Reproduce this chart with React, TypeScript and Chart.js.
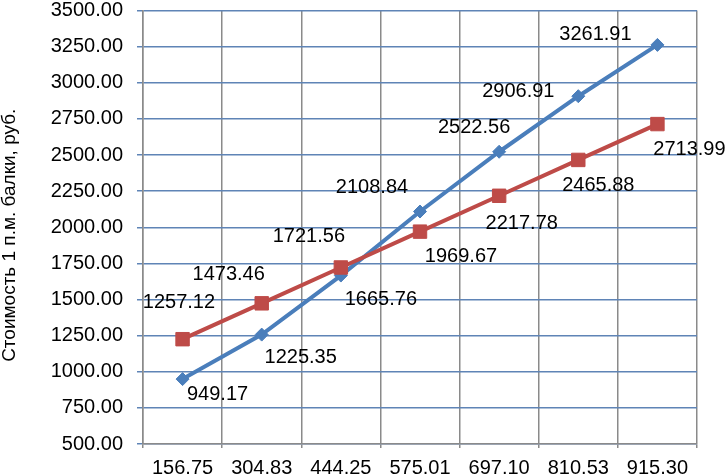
import React, { useEffect, useRef } from 'react';
import { Chart, registerables } from 'chart.js';

Chart.register(...registerables);

const categories = ['156.75', '304.83', '444.25', '575.01', '697.10', '810.53', '915.30'];
const blueValues = [949.17, 1257.12, 1665.76, 2108.84, 2522.56, 2906.91, 3261.91];
const redValues = [1225.35, 1473.46, 1721.56, 1969.67, 2217.78, 2465.88, 2713.99];
const blueLabels = ['949.17', '1225.35', '1665.76', '2108.84', '2522.56', '2906.91', '3261.91'];
const redLabels = ['1257.12', '1473.46', '1721.56', '1969.67', '2217.78', '2465.88', '2713.99'];
const yTitle = 'Стоимость 1 п.м. балки, руб.';
const yMin = 500;
const yMax = 3500;
const yStep = 250;

// label placement offsets (pixels from the point), per series
const blueOffsets = [[35, 15], [39, 23], [40, 24], [-48, -24], [-25, -24.5], [-60, -4.5], [-62, -10]];
const redOffsets = [[-3.6, -37], [-33, -29], [-32, -31], [41, 25], [22.6, 28], [20, 26], [32, 25]];

const FONT = "'Liberation Sans', Arial, sans-serif";
const BLUE = '#4a7ebb';
const RED = '#be4b48';
const HGRID = '#5f84b6';
const VGRID = '#8a8a8a';

const labelPlugin = {
  id: 'pointLabels',
  afterDatasetsDraw(chart: any) {
    const ctx = chart.ctx;
    ctx.save();
    ctx.font = `20px ${FONT}`;
    ctx.fillStyle = '#000';
    ctx.textAlign = 'center';
    ctx.textBaseline = 'middle';
    const sets = [
      { idx: 0, labels: blueLabels, offs: blueOffsets },
      { idx: 1, labels: redLabels, offs: redOffsets },
    ];
    sets.forEach((s) => {
      const meta = chart.getDatasetMeta(s.idx);
      meta.data.forEach((pt: any, j: number) => {
        ctx.fillText(s.labels[j], pt.x + s.offs[j][0], pt.y + s.offs[j][1]);
      });
    });
    ctx.restore();
  },
};

const titlePlugin = {
  id: 'yTitle',
  afterDraw(chart: any) {
    const ctx = chart.ctx;
    const area = chart.chartArea;
    ctx.save();
    ctx.font = `19px ${FONT}`;
    ctx.fillStyle = '#000';
    ctx.textAlign = 'center';
    ctx.textBaseline = 'middle';
    ctx.translate(10, (area.top + area.bottom) / 2 + 8);
    ctx.rotate(-Math.PI / 2);
    ctx.fillText(yTitle, 0, 0);
    ctx.restore();
  },
};

const bgPlugin = {
  id: 'bg',
  beforeDraw(chart: any) {
    const ctx = chart.ctx;
    ctx.save();
    ctx.fillStyle = '#fff';
    ctx.fillRect(0, 0, chart.width, chart.height);
    ctx.restore();
  },
};

export default function App() {
  const ref = useRef<HTMLCanvasElement>(null);
  useEffect(() => {
    if (!ref.current) return;
    Chart.defaults.font.family = FONT;
    const chart = new Chart(ref.current, {
      type: 'line',
      data: {
        labels: categories,
        datasets: [
          {
            data: blueValues,
            borderColor: BLUE,
            backgroundColor: BLUE,
            borderWidth: 4,
            pointStyle: 'rectRot',
            pointRadius: 6.5,
            pointBorderWidth: 1,
            pointBorderColor: BLUE,
            pointBackgroundColor: BLUE,
            tension: 0,
            order: 2,
          },
          {
            data: redValues,
            borderColor: RED,
            backgroundColor: RED,
            borderWidth: 4,
            pointStyle: 'rect',
            pointRadius: 9.5,
            pointBorderWidth: 1,
            pointBorderColor: RED,
            pointBackgroundColor: RED,
            tension: 0,
            order: 1,
          },
        ],
      },
      options: {
        responsive: false,
        animation: false,
        events: [],
        layout: { padding: { top: 8, right: 30, left: 0, bottom: 0 } },
        plugins: {
          legend: { display: false },
          tooltip: { enabled: false },
          title: { display: false },
        },
        scales: {
          x: {
            type: 'category',
            offset: true,
            grid: {
              offset: true,
              color: VGRID,
              lineWidth: 1.5,
              drawTicks: true,
              tickLength: 4,
            },
            border: { color: VGRID, width: 1.5 },
            ticks: {
              color: '#000',
              font: { size: 20, family: FONT },
              padding: 8,
              maxRotation: 0,
              autoSkip: false,
            },
            afterFit(scale: any) {
              scale.height = 31;
              scale.paddingLeft = 0;
              scale.paddingRight = 0;
            },
          },
          y: {
            min: yMin,
            max: yMax,
            grid: {
              color: HGRID,
              lineWidth: 1.5,
              drawTicks: true,
              tickLength: 6,
            },
            border: { color: VGRID, width: 1.5 },
            ticks: {
              stepSize: yStep,
              color: '#000',
              font: { size: 20, family: FONT },
              padding: 14,
              callback: (v: any) => Number(v).toFixed(2),
            },
            afterFit(scale: any) {
              scale.width = 143;
              scale.paddingTop = 0;
              scale.paddingBottom = 0;
            },
          },
        },
      },
      plugins: [bgPlugin, labelPlugin, titlePlugin],
    });
    return () => chart.destroy();
  }, []);
  return (
    <div style={{ position: 'absolute', left: 0, top: 0, width: 727, height: 475, background: '#fff' }}>
      <canvas ref={ref} width={727} height={475} style={{ display: 'block' }} />
    </div>
  );
}
